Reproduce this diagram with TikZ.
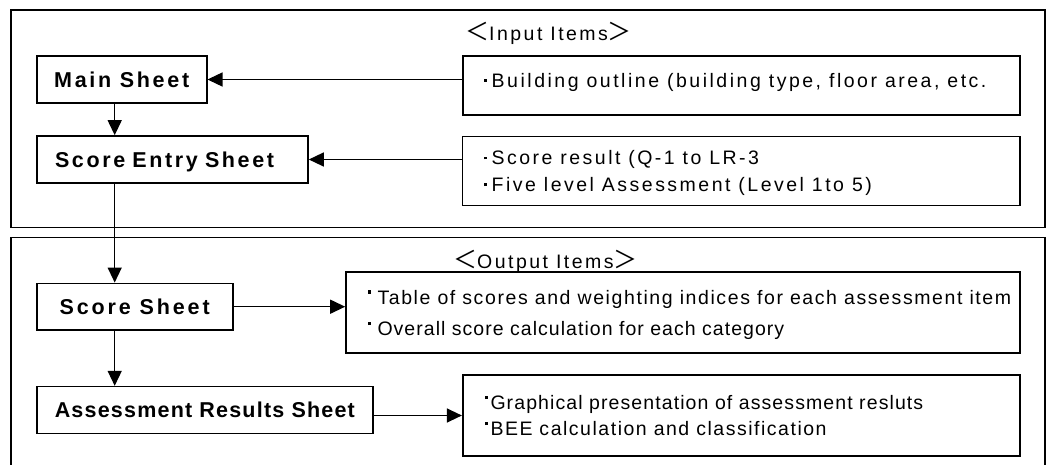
\documentclass[tikz,border=0pt]{standalone}
\usepackage{fontspec}
\setmainfont{Liberation Sans}
\newfontfamily\cjkfont{Noto Sans CJK JP}
\usetikzlibrary{arrows.meta}

% letter-spaced text: \track{<percent of font size>}{<text>}
\newcommand\track[2]{{\addfontfeature{LetterSpace=#1}#2}}
% bullets: small dot at mid height, small square at cap height
\newcommand\inbul{\rule[5.5pt]{2.8pt}{2.8pt}}
\newcommand\outbul{\rule[10pt]{3pt}{3.5pt}}
\newcommand\lbr{{\cjkfont\fontsize{24}{26}\selectfont ＜}}
\newcommand\rbr{{\cjkfont\fontsize{24}{26}\selectfont ＞}}

\begin{document}
\begin{tikzpicture}[x=1pt,y=-1pt,
  frame/.style={line width=1.6pt},
  sheet/.style={draw, line width=1.6pt, inner sep=0pt,
    text height=15.4pt, text depth=0pt,
    font=\fontsize{21.5}{24}\selectfont\bfseries},
  itembox/.style={draw, line width=1.6pt, inner sep=0pt},
  itemtext/.style={anchor=base west, inner sep=0pt,
    font=\fontsize{19.5}{22}\selectfont},
  conn/.style={line width=1.3pt, -{Triangle[length=15pt,width=14pt]}}]

\useasboundingbox (0,0) rectangle (1047,465);
\fill[white] (0,0) rectangle (1047,465);

% group frames
\draw[frame] (11,10) rectangle (1044.7,227.7);
\draw[frame] (11,470) -- (11,237.7) -- (1044.7,237.7) -- (1044.7,470);

% headings
\node[itemtext] (inhead) at (465,41) {\lbr\track{12.7}{Input Items}\rbr};
\node[itemtext] (outhead) at (453,269) {\lbr\track{12.7}{Output Items}\rbr};

% sheets
\node[sheet, minimum width=170pt, minimum height=47pt] (main) at (121.7,79.5) {\track{12.5}{Main Sheet}};
\node[sheet, text width=234.7pt, align=left, inner xsep=18.3pt, minimum height=47pt] (entry) at (172.35,159.5) {\track{12.2}{Score Entry Sheet}};
\node[sheet, minimum width=196pt, minimum height=46.7pt] (score) at (134.7,306.7) {\track{13.3}{Score Sheet}};
\node[sheet, minimum width=336.3pt, minimum height=46.7pt] (assess) at (204.85,410) {\track{5.6}{Assessment Results Sheet}};

% item boxes
\node[itembox, minimum width=557.3pt, minimum height=59pt] (in1) at (741.35,85.5) {};
\node[itembox, minimum width=557.5pt, minimum height=69pt] (in2) at (741.25,171) {};
\node[itembox, minimum width=674pt, minimum height=81pt] (out1) at (683,312.2) {};
\node[itembox, minimum width=557.3pt, minimum height=81pt] (out2) at (741.35,415.5) {};

% item texts
\node[itemtext] (in1a) at (484,87.3) {\inbul\hspace{4.7pt}\track{12.9}{Building outline (building type, floor area, etc.}};
\node[itemtext] (in2a) at (484,165) {\inbul\hspace{4.7pt}\track{12.7}{Score result (Q-1 to LR-3}};
\node[itemtext] (in2b) at (484,191.7) {\inbul\hspace{4.7pt}\track{12.8}{Five level Assessment (Level 1to 5)}};
\node[itemtext] (out1a) at (367.7,304) {\outbul\hspace{6.6pt}\track{8.2}{Table of scores and weighting indices for each assessment item}};
\node[itemtext] (out1b) at (367.7,335) {\outbul\hspace{6.6pt}\track{5.3}{Overall score calculation for each category}};
\node[itemtext] (out2a) at (484.3,409) {\outbul\hspace{3pt}\track{5.6}{Graphical presentation of assessment resluts}};
\node[itemtext] (out2b) at (484.3,435) {\outbul\hspace{3pt}\track{7.8}{BEE calculation and classification}};

% connectors
\coordinate (spine) at (114.7,0);
\draw[conn] (main.south -| spine) -- (entry.north -| spine);
\draw[conn] (entry.south -| spine) -- (score.north -| spine);
\draw[conn] (score.south -| spine) -- (assess.north -| spine);
\draw[conn] (in1.west |- main.east) -- (main.east);
\draw[conn] (in2.west |- entry.east) -- (entry.east);
\draw[conn] (score.east) -- (score.east -| out1.west);
\draw[conn] (assess.east |- out2.west) -- (out2.west);
\end{tikzpicture}
\end{document}
